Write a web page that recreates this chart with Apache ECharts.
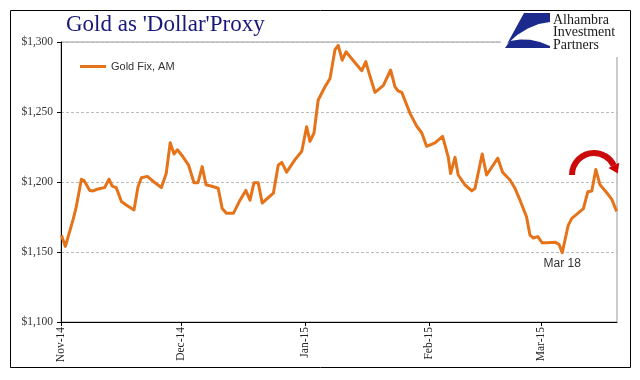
<!DOCTYPE html>
<html>
<head>
<meta charset="utf-8">
<script src="https://cdn.jsdelivr.net/npm/echarts@6/dist/echarts.min.js"></script>
<style>
  html, body { margin: 0; padding: 0; background: #fff; }
  #chart { width: 640px; height: 380px; }
</style>
</head>
<body>
<div id="chart"></div>
<script>
// Days since 1 Nov 2014 (position on the chart's date axis)
const days = [0.1, 1.1, 3.0, 3.8, 5.1, 5.75, 7.2, 8.0, 9.25, 10.9, 12.0, 12.8, 13.8, 15.1, 16.3, 18.25,
  19.25, 20.1, 21.6, 23.25, 25.1, 26.3, 27.3, 28.25, 29.1, 30.5, 31.9, 33.25, 34.25, 35.3, 36.25, 37.7,
  39.3, 40.3, 41.4, 43.1, 44.75, 46.2, 47.25, 48.25, 49.3, 50.3, 53.1, 54.3, 55.2, 56.4, 58.5, 60.2,
  61.4, 62.25, 63.25, 64.3, 66.0, 67.25, 68.5, 69.3, 70.3, 71.25, 73.1, 75.2, 76.2, 77.25, 78.5, 80.6,
  82.4, 83.5, 84.3, 85.2, 87.25, 88.9, 90.2, 91.4, 93.5, 95.4, 96.8, 97.4, 98.5, 99.3, 101.0, 102.7,
  103.5, 105.3, 106.4, 109.2, 110.4, 112.25, 113.5, 114.75, 116.4, 117.25, 118.1, 119.2, 120.3, 121.4,
  123.5, 124.5, 125.3, 126.8, 127.7, 129.2, 130.6, 131.7, 132.7, 133.7, 134.75, 136.7, 137.7, 138.9];
// Gold fix, AM (USD/oz)
const goldFixAM = [1162, 1154, 1173, 1182, 1202, 1201, 1194, 1193.6, 1195, 1196, 1202, 1197, 1196, 1186, 1183.6, 1180,
  1196.6, 1203, 1204, 1200, 1196, 1206, 1228, 1220, 1223, 1218, 1212, 1199.5, 1199.5, 1211, 1198, 1197,
  1195.5, 1181, 1177.6, 1177.6, 1187, 1194, 1187, 1199.5, 1199.5, 1185, 1192, 1212, 1214, 1207, 1216, 1222,
  1239.5, 1229, 1235, 1258.6, 1268, 1274, 1294.5, 1297.6, 1287, 1293, 1286.6, 1279.5, 1286, 1275.5, 1264, 1269,
  1280, 1268, 1265, 1264, 1249, 1240, 1235, 1225.5, 1228, 1232.6, 1218, 1206, 1217.6, 1205, 1198, 1193.6,
  1195.5, 1220, 1205, 1217, 1207, 1201.4, 1195.5, 1187, 1175, 1162, 1160, 1161, 1156.6, 1156.6,
  1157, 1155.5, 1149.5, 1169, 1174, 1177.6, 1181, 1193, 1193.6, 1209, 1198, 1191.4, 1187.6, 1179];
// Month ticks (days since 1 Nov 2014) and their labels
const monthTicks = [0, 30, 61, 92, 120];
const monthLabels = ['Nov-14', 'Dec-14', 'Jan-15', 'Feb-15', 'Mar-15'];
const yTicks = [1100, 1150, 1200, 1250, 1300];
const seriesName = 'Gold Fix, AM';
const titleText = "Gold as 'Dollar'Proxy";
const annotationText = 'Mar 18';
const lowIndex = 96;

const data = days.map((d, i) => [d, goldFixAM[i]]);
const chart = echarts.init(document.getElementById('chart'), null, { renderer: 'canvas' });

const arcCx = 594, arcCy = 175, arcR = 22, endA = 2 * Math.PI - 0.45;
const ex = arcCx + arcR * Math.cos(endA), ey = arcCy + arcR * Math.sin(endA);
const tx = -Math.sin(endA), ty = Math.cos(endA); // tangent (clockwise)
const px = Math.cos(endA), py = Math.sin(endA);  // normal

chart.setOption({
  animation: false,
  backgroundColor: '#fff',
  grid: { left: 61, right: 23, top: 42, bottom: 58, show: true, borderColor: '#999', borderWidth: 1 },
  legend: {
    data: [seriesName], left: 80, top: 61, padding: 0, icon: 'rect', itemWidth: 26, itemHeight: 3,
    textStyle: { fontFamily: 'Liberation Sans', fontSize: 11, color: '#333' }
  },
  xAxis: {
    type: 'value', min: 0, max: 139,
    axisLine: { show: true, lineStyle: { color: '#000', width: 1 } },
    axisTick: { show: true, customValues: monthTicks, length: 4, lineStyle: { color: '#000' } },
    axisLabel: {
      customValues: monthTicks, rotate: 90, margin: 5,
      fontFamily: 'Liberation Serif', fontSize: 11.5, color: '#222',
      formatter: v => monthLabels[monthTicks.indexOf(v)] || ''
    },
    splitLine: { show: false }
  },
  yAxis: {
    type: 'value', min: yTicks[0], max: yTicks[yTicks.length - 1], interval: 50,
    axisLine: { show: true, lineStyle: { color: '#000', width: 1 } },
    axisTick: { show: true, length: 4, lineStyle: { color: '#000' } },
    axisLabel: {
      margin: 8, fontFamily: 'Liberation Serif', fontSize: 11.5, color: '#333',
      formatter: v => '$' + v.toLocaleString('en-US')
    },
    splitLine: { show: true, lineStyle: { color: '#bbb', type: [3, 2], width: 1 } }
  },
  series: [{
    name: seriesName, type: 'line', data: data, symbol: 'none',
    lineStyle: { color: '#E5731A', width: 3, join: 'round' },
    itemStyle: { color: '#E5731A' },
    markPoint: {
      symbol: 'circle', symbolSize: 0,
      data: [{ coord: data[lowIndex] }],
      label: {
        show: true, position: 'bottom', distance: 5, formatter: annotationText,
        fontFamily: 'Liberation Sans', fontSize: 12, color: '#333'
      }
    }
  }],
  graphic: [
    { type: 'rect', silent: true, z: 0, shape: { x: 10.5, y: 10.5, width: 620, height: 357 },
      style: { fill: 'none', stroke: '#000', lineWidth: 1 } },
    { type: 'rect', z: 10, shape: { x: 501, y: 11, width: 129, height: 46 }, style: { fill: '#fff' } },
    { type: 'text', z: 11, x: 66, y: 13,
      style: { text: titleText, font: '23px "Liberation Serif"', fill: '#18187a' } },
    // logo icon
    { type: 'polygon', z: 11, shape: { points: [[524, 13], [550, 13], [550, 22], [538.7, 24.1], [527.8, 28.5], [517.2, 35.1], [507, 44]] },
      style: { fill: '#1b2a8c' } },
    { type: 'polygon', z: 11, shape: { points: [[505, 48], [510, 41], [520, 39.4], [530, 39.75], [540, 41.9], [550, 46], [550, 48]] },
      style: { fill: '#1b2a8c' } },
    { type: 'text', z: 11, x: 553, y: 14,
      style: { text: 'Alhambra\nInvestment\nPartners', font: '14px "Liberation Serif"', lineHeight: 12.5, fill: '#1a1a1a' } },
    // red curved arrow
    { type: 'arc', z: 12, shape: { cx: arcCx, cy: arcCy, r: arcR, startAngle: Math.PI, endAngle: endA, clockwise: true },
      style: { fill: 'none', lineWidth: 6, stroke: '#cc0a0a' } },
    { type: 'polygon', z: 12, shape: { points: [
        [ex + px * 6, ey + py * 6], [ex - px * 6, ey - py * 6], [ex + tx * 9, ey + ty * 9]] },
      style: { fill: '#d00000' } }
  ]
});
</script>
</body>
</html>
